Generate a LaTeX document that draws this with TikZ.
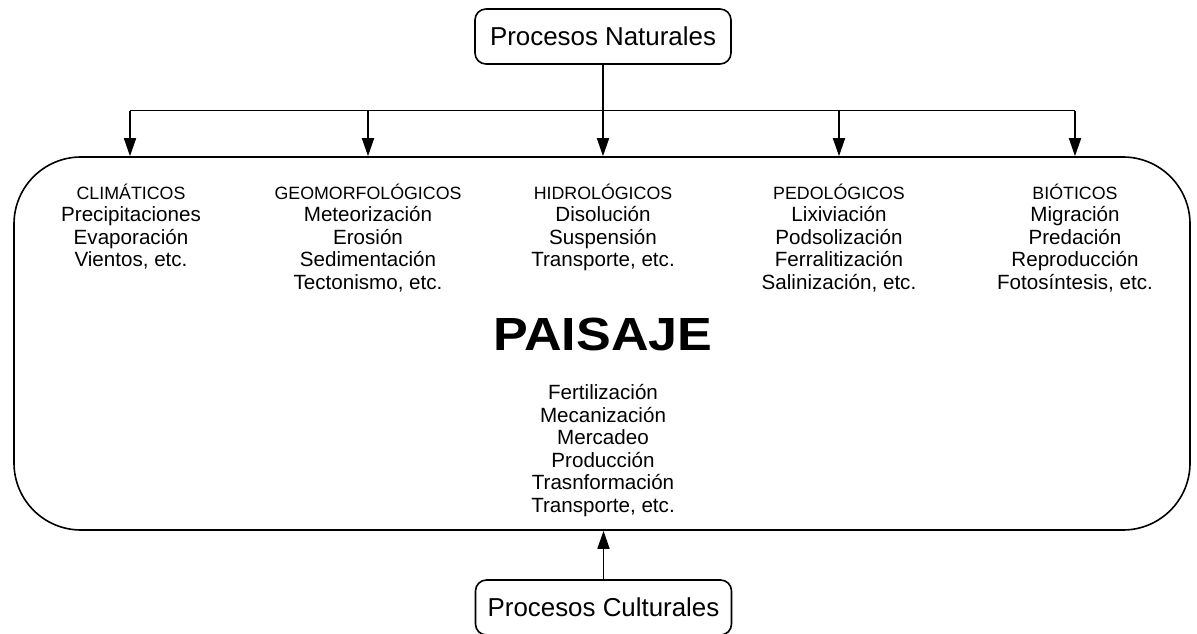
\documentclass[tikz,border=0pt]{standalone}
\usepackage{fontspec}
\setmainfont{Liberation Sans}
\newfontfamily\widebold[FakeStretch=1.12]{Liberation Sans Bold}
\usetikzlibrary{arrows.meta}
\tikzset{
  line/.style={line width=1.6pt},
  arr/.style={line width=1.6pt, -{Triangle[length=18pt,width=12pt]}},
  procbox/.style={draw, line width=1.6pt, rounded corners=11pt, minimum width=256pt, minimum height=55pt, font=\fontsize{25.9}{30}\selectfont, inner sep=0pt},
  col/.style={anchor=north, align=center, inner sep=0pt, font=\fontsize{20.6}{22.5}\selectfont},
}
\newcommand{\hdr}[1]{\rule{0pt}{16pt}{\fontsize{17.8}{22.5}\selectfont #1}}
\begin{document}
\begin{tikzpicture}[x=1pt,y=1pt]
\useasboundingbox (0,0) rectangle (1197,633);
% boxes
\node[procbox] (top) at (603,596.5) {Procesos Naturales};
\node[procbox] (bot) at (603.5,25.5) {Procesos Culturales};
\node[draw, line width=1.6pt, rounded corners=67pt, minimum width=1176pt, minimum height=373pt, inner sep=0pt] (big) at (602,289.5) {};
% column texts
\node[col] (clim) at (131,450) {\hdr{CLIMÁTICOS}\\Precipitaciones\\Evaporación\\Vientos, etc.};
\node[col] (geo) at (368,450) {\hdr{GEOMORFOLÓGICOS}\\Meteorización\\Erosión\\Sedimentación\\Tectonismo, etc.};
\node[col] (hid) at (603,450) {\hdr{HIDROLÓGICOS}\\Disolución\\Suspensión\\Transporte, etc.};
\node[col] (ped) at (839,450) {\hdr{PEDOLÓGICOS}\\Lixiviación\\Podsolización\\Ferralitización\\Salinización, etc.};
\node[col] (bio) at (1075,450) {\hdr{BIÓTICOS}\\Migración\\Predación\\Reproducción\\Fotosíntesis, etc.};
\node[anchor=base, inner sep=0pt, font=\fontsize{46.5}{50}\widebold] (pai) at (603,283) {PAISAJE};
\node[col] (cult) at (603,249.7) {\rule{0pt}{16pt}Fertilización\\Mecanización\\Mercadeo\\Producción\\Trasnformación\\Transporte, etc.};
% connectors
\coordinate (h1) at (130,522.3);
\coordinate (h2) at (368,522.3);
\coordinate (h4) at (839,522.3);
\coordinate (h5) at (1075,522.3);
\draw[line] (h1) -- (h5);
\draw[arr] (top.south) -- (top.south |- big.north);
\draw[arr] (h1) -- (h1 |- big.north);
\draw[arr] (h2) -- (h2 |- big.north);
\draw[arr] (h4) -- (h4 |- big.north);
\draw[arr] (h5) -- (h5 |- big.north);
\draw[arr] (bot.north) -- (bot.north |- big.south);
\end{tikzpicture}
\end{document}
